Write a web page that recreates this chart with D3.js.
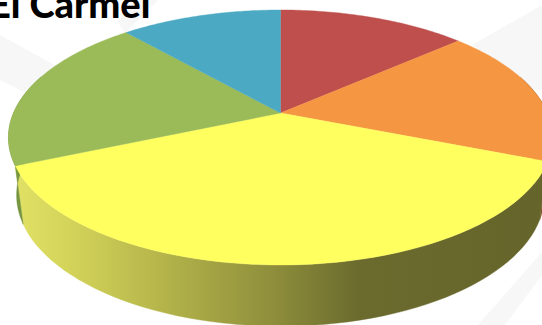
<!DOCTYPE html>
<html><head><meta charset="utf-8">
<script src="https://cdnjs.cloudflare.com/ajax/libs/d3/7.8.5/d3.min.js"></script>
<style>html,body{margin:0;padding:0;background:#fff;overflow:hidden}svg{display:block}</style>
</head><body><svg id="c" width="542" height="325"></svg>
<script>
const categories = ["A", "B", "C", "D", "E"];
const values = [13.5, 17.5, 37.5, 20, 11.5];
const topColors = ["#BE4F4D", "#F59643", "#FFFF5F", "#9BBB59", "#4BA9C3"];
const wallColors = ["#7A3230", "#8A5426", null, "#76953F", "#2F7A90"];
const wallStops = [[0.02,"#E2E266"],[0.13,"#D3D35A"],[0.28,"#B8B84C"],[0.50,"#8F8F3C"],[0.66,"#6B6B2E"],[1,"#65652B"]];
const title = "El Carmel";

const svg = d3.select("#c");
const cx = 280.5, q = 0.192;
const topFace = {a:267, b:122.8, y0:113};
const baseFace = {a:259, b:126.2, y0:170};
const project = (f, t) => {
  const u = Math.sin(t), v = -Math.cos(t), w = 1 - q*v;
  return [cx + f.a*u/w, f.y0 + f.b*v/w];
};
const arcs = d3.pie().value(d=>d).sort(null)(values);
const line = d3.line();
const samples = (a,b) => d3.range(0,61).map(d3.scaleLinear().domain([0,60]).range([a,b]));

// watermark
[[[0,35],[60,68],[30,95],[0,80]],[[118,22],[135,0],[158,0],[125,33]],
 [[472,45],[542,5],[542,90],[530,90]],[[542,252],[478,325],[505,325],[542,275]]]
 .forEach(p=>svg.append("polygon").attr("points",p.join(" ")).attr("fill","#F7F7F7"));

const defs = svg.append("defs");
const g = defs.append("linearGradient").attr("id","wall").attr("gradientUnits","userSpaceOnUse")
  .attr("x1",0).attr("x2",542).attr("y1",0).attr("y2",0);
wallStops.forEach(s=>g.append("stop").attr("offset",s[0]).attr("stop-color",s[1]));

// walls (only front half visible)
arcs.forEach((d,i)=>{
  const a = Math.max(d.startAngle, Math.PI*0.4), b = Math.min(d.endAngle, Math.PI*1.6);
  if (b <= a) return;
  const ts = samples(a,b);
  const pts = ts.map(t=>project(topFace,t)).concat(ts.slice().reverse().map(t=>project(baseFace,t)));
  svg.append("path").attr("d",line(pts)+"Z")
    .attr("fill", wallColors[i] || "url(#wall)")
    .attr("stroke", wallColors[i] || "url(#wall)").attr("stroke-width",0.4);
});
// top
arcs.forEach((d,i)=>{
  const pts = [[cx,topFace.y0]].concat(samples(d.startAngle,d.endAngle).map(t=>project(topFace,t)));
  svg.append("path").attr("d",line(pts)+"Z").attr("fill",topColors[i])
    .attr("stroke",topColors[i]).attr("stroke-width",0.4).attr("data-cat",categories[i]);
});
svg.append("text").text(title).attr("x",-11).attr("y",18)
  .attr("font-family","Lato, 'Open Sans', sans-serif").attr("font-weight",900).attr("font-size",38).attr("fill","#000");
</script></body></html>
